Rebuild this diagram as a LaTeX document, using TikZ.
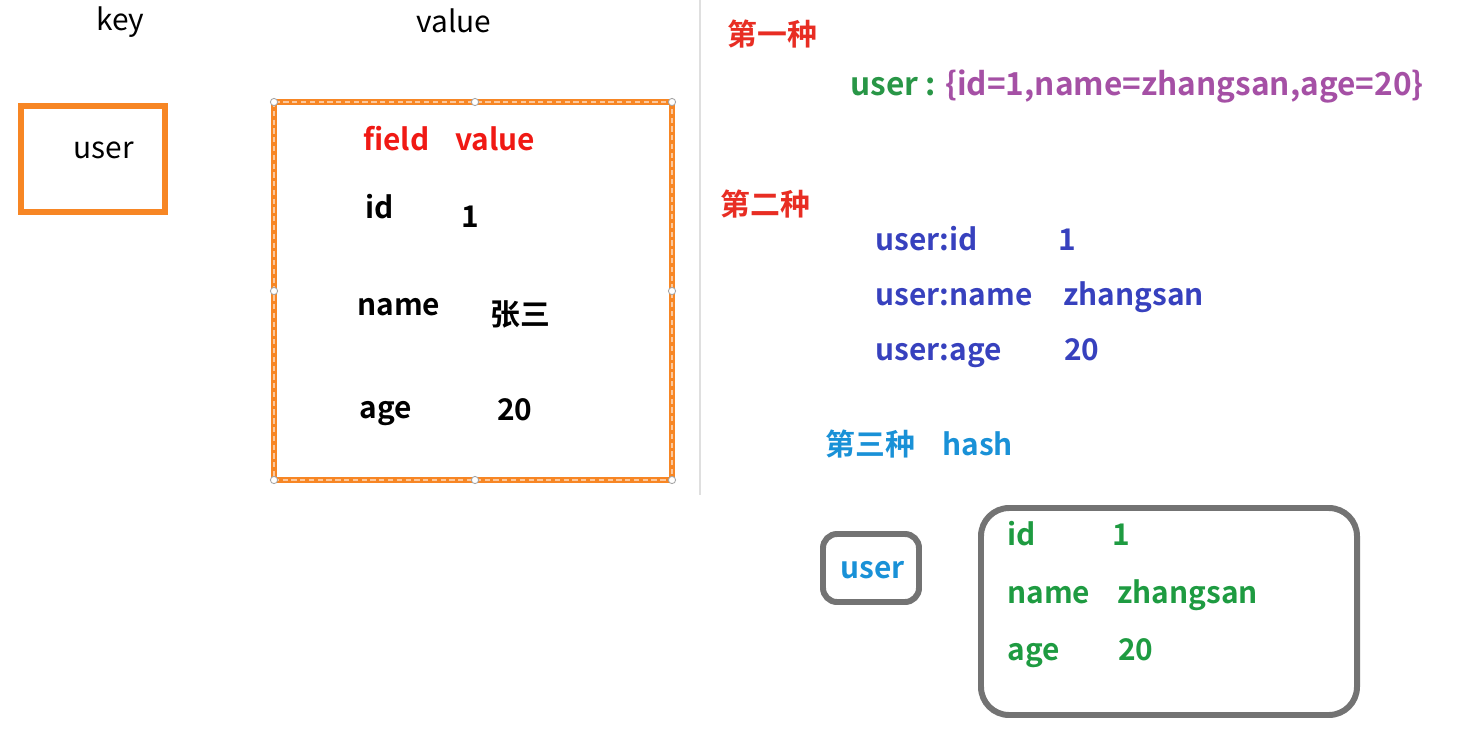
\documentclass[tikz,border=0pt]{standalone}
\usepackage{fontspec}
\setmainfont{Noto Sans CJK SC}[BoldFont={Noto Sans CJK SC Bold}]
\usetikzlibrary{positioning}
\definecolor{boxorange}{RGB}{247,134,36}
\definecolor{fieldred}{RGB}{240,25,20}
\definecolor{titlered}{RGB}{232,45,35}
\definecolor{keygreen}{RGB}{40,150,70}
\definecolor{valpurple}{RGB}{165,80,165}
\definecolor{colonblue}{RGB}{55,65,190}
\definecolor{hashblue}{RGB}{25,145,215}
\definecolor{hashgreen}{RGB}{30,155,65}
\definecolor{framegray}{RGB}{115,115,115}
\tikzset{
	txt/.style={inner sep=0pt,anchor=base west,font=\fontsize{17}{20}\selectfont},
	bt/.style={inner sep=0pt,anchor=base west,font=\fontsize{17}{20}\selectfont\bfseries},
	handle/.style={fill=white,draw=gray!70,line width=0.5pt}
}
\begin{document}
\begin{tikzpicture}[x=0.02cm,y=-0.02cm]
			\useasboundingbox[fill=white] (0,0) rectangle (1461,731);
			% left panel: key and value
			\draw[gray!25,line width=1pt] (700,0) -- (700,495);
			\node[txt] (keylbl) at (96,30) {key};
			\node[txt] (valuelbl) at (416,32) {value};
			\draw[boxorange,line width=3.4pt] (21,106) rectangle (165,212);
			\node[txt] (keyuser) at (73,158) {user};
			% selected value frame with its handles
			\draw[boxorange,line width=3pt] (274,102) rectangle (672,480);
			\draw[white!55!boxorange,line width=0.8pt,dash pattern=on 3pt off 2pt] (274,102) rectangle (672,480);
			\foreach \hx/\hy in {274/102,475/102,672/102,274/291,672/291,274/480,475/480,672/480}{
				\draw[handle] (\hx,\hy) circle (3.6);
			}
			\node[bt,text=fieldred] (fieldhd) at (363,150) {field};
			\node[bt,text=fieldred] (valuehd) at (455,150) {value};
			\node[bt] (fid) at (365,218) {id};
			\node[bt] (vid) at (461,227) {1};
			\node[bt] (fname) at (357,315) {name};
			\node[bt] (vname) at (490,325) {张三};
			\node[bt] (fage) at (359,418) {age};
			\node[bt] (vage) at (497,420) {20};
			% first way: one string
			\node[bt,text=titlered] (way1) at (727,45) {第一种};
			\node[bt,font=\fontsize{18}{20}\selectfont\bfseries] (json) at (850,95) {\color{keygreen}user : \color{valpurple}\{id=1,name=zhangsan,age=20\}};
			% second way: one key per field
			\node[bt,text=titlered] (way2) at (720,215) {第二种};
			\node[bt,text=colonblue] (kid) at (875,250) {user:id};
			\node[bt,text=colonblue] (kidv) at (1058,250) {1};
			\node[bt,text=colonblue] (kname) at (875,305) {user:name};
			\node[bt,text=colonblue] (knamev) at (1063,305) {zhangsan};
			\node[bt,text=colonblue] (kage) at (875,360) {user:age};
			\node[bt,text=colonblue] (kagev) at (1064,360) {20};
			% third way: hash
			\node[bt,text=hashblue] (way3) at (825,455) {第三种};
			\node[bt,text=hashblue] (hashlbl) at (942,455) {hash};
			\draw[framegray,line width=3.4pt,rounded corners=8pt] (823,534) rectangle (919,602);
			\node[bt,text=hashblue] (huser) at (840,578) {user};
			\draw[framegray,line width=3.4pt,rounded corners=16pt] (981,508) rectangle (1357,715);
			\node[bt,text=hashgreen] (hid) at (1007,545) {id};
			\node[bt,text=hashgreen] (hidv) at (1112,545) {1};
			\node[bt,text=hashgreen] (hname) at (1007,603) {name};
			\node[bt,text=hashgreen] (hnamev) at (1117,603) {zhangsan};
			\node[bt,text=hashgreen] (hage) at (1007,660) {age};
			\node[bt,text=hashgreen] (hagev) at (1118,660) {20};
		\end{tikzpicture}
\end{document}
